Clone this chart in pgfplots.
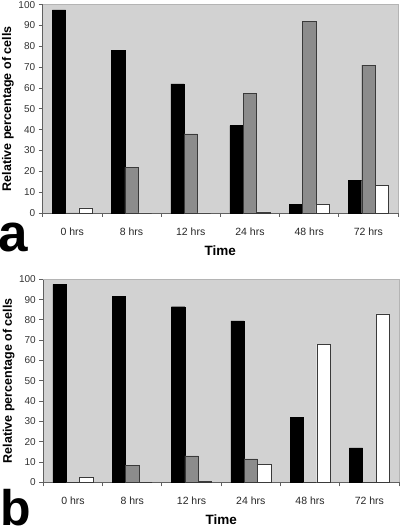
\documentclass[border=0pt]{standalone}
\usepackage{pgfplots}
\pgfplotsset{compat=1.18}
\usepackage{fontspec}
\setmainfont{Liberation Sans}
\definecolor{bggray}{HTML}{D2D2D2}
\definecolor{bargray}{HTML}{8C8C8C}
\definecolor{edgegray}{HTML}{3A3A3A}
\definecolor{framegray}{HTML}{B4B4B4}
\definecolor{axgray}{HTML}{606060}
\pgfplotstableread{
x black grey white
0 97.5 0 2.5
1 78 22 0
2 62 38 0
3 42 57.5 0.5
4 4 92 4
5 15.7 71 13.3
}\dataA
\pgfplotstableread{
x black grey white
0 97.5 0 2.5
1 91.5 8.3 0
2 86.5 13 0.5
3 79.5 11.5 9
4 32 0 68
5 17 0 83
}\dataB
\pgfplotsset{
  panel/.style={
    scale only axis,
    anchor=south west,
    ybar, bar width=0.225,
    xmin=-0.5, xmax=5.5,
    ymin=0, ymax=100,
    ytick={0,10,...,100},
    xtick={0,...,5},
    xticklabels={0 hrs,8 hrs,12 hrs,24 hrs,48 hrs,72 hrs},
    minor xtick={-0.5,0.5,...,5.5},
    major x tick style={draw=none},
    minor tick length=4pt,
    major tick length=4pt,
    tick align=outside,
    axis x line*=bottom,
    axis y line*=left,
    axis line style={draw=axgray, line width=0.8pt},
    tick style={draw=axgray, line width=0.8pt},
    axis background/.style={fill=bggray},
    /pgf/number format/assume math mode=true,
    yticklabel style={font=\fontsize{10}{12}\selectfont, text=black!80},
    xticklabel style={font=\fontsize{10.5}{12}\selectfont, text=black!85, yshift=-7.5pt},
    ylabel={Relative percentage of cells},
    ylabel style={font=\bfseries\fontsize{12.5}{14}\selectfont, at={(axis description cs:-0.0977,0.5)}, anchor=center},
    xlabel={Time},
    xlabel style={font=\bfseries\fontsize{13.5}{15}\selectfont, anchor=center},
    clip=false,
  },
  blk/.style={fill=black, draw=black, bar shift=-0.225},
  gry/.style={fill=bargray, draw=edgegray, bar shift=0},
  wht/.style={fill=white, draw=edgegray, bar shift=0.225},
}
\begin{document}
\begin{tikzpicture}
\path[use as bounding box] (0,0) rectangle (400pt,528pt);
\begin{axis}[panel, at={(42.7pt,315pt)}, width=355.3pt, height=208.3pt,
  xlabel style={at={(axis description cs:0.5,-0.18)}}]
\addplot[blk] table[x=x,y=black] {\dataA};
\addplot[gry] table[x=x,y=grey] {\dataA};
\addplot[wht] table[x=x,y=white] {\dataA};
\draw[framegray, line width=0.8pt] (rel axis cs:0,1) -- (rel axis cs:1,1) -- (rel axis cs:1,0);
\end{axis}
\begin{axis}[panel, at={(43.3pt,45.7pt)}, width=355.7pt, height=203pt,
  xlabel style={at={(axis description cs:0.5,-0.183)}}]
\addplot[blk] table[x=x,y=black] {\dataB};
\addplot[gry] table[x=x,y=grey] {\dataB};
\addplot[wht] table[x=x,y=white] {\dataB};
\draw[framegray, line width=0.8pt] (rel axis cs:0,1) -- (rel axis cs:1,1) -- (rel axis cs:1,0);
\end{axis}
\node[anchor=base west, inner sep=0pt, font=\bfseries\fontsize{53}{60}\selectfont] at (-1.5pt,276.5pt) {a};
\node[anchor=base west, inner sep=0pt, font=\bfseries\fontsize{50}{60}\selectfont] at (0pt,2.2pt) {b};
\end{tikzpicture}
\end{document}
